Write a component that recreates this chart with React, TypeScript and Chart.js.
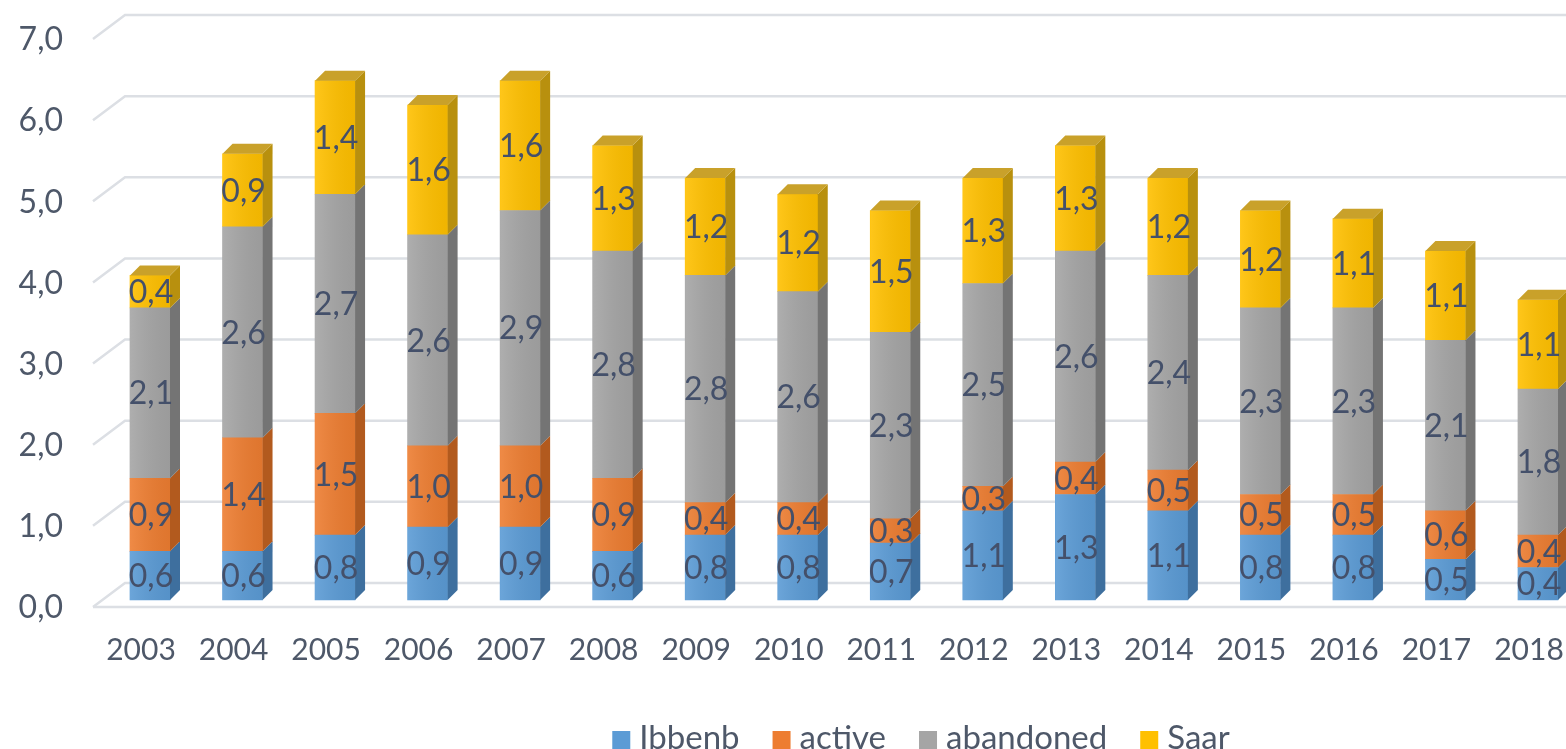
import React, { useEffect, useRef } from "react";
import { Chart, registerables } from "chart.js";

Chart.register(...registerables);

const years = ["2003", "2004", "2005", "2006", "2007", "2008", "2009", "2010", "2011", "2012", "2013", "2014", "2015", "2016", "2017", "2018"];
const ibbenb = [0.6, 0.6, 0.8, 0.9, 0.9, 0.6, 0.8, 0.8, 0.7, 1.1, 1.3, 1.1, 0.8, 0.8, 0.5, 0.4];
const active = [0.9, 1.4, 1.5, 1.0, 1.0, 0.9, 0.4, 0.4, 0.3, 0.3, 0.4, 0.5, 0.5, 0.5, 0.6, 0.4];
const abandoned = [2.1, 2.6, 2.7, 2.6, 2.9, 2.8, 2.8, 2.6, 2.3, 2.5, 2.6, 2.4, 2.3, 2.3, 2.1, 1.8];
const saar = [0.4, 0.9, 1.4, 1.6, 1.6, 1.3, 1.2, 1.2, 1.5, 1.3, 1.3, 1.2, 1.2, 1.1, 1.1, 1.1];
const yTicks = [0, 1, 2, 3, 4, 5, 6, 7];

const seriesNames = ["Ibbenb", "active", "abandoned", "Saar"];
const frontColors = ["#5B9BD5", "#ED7D31", "#A5A5A5", "#FFC000"];
const sideColors = ["#3E6F9E", "#B25A1E", "#747474", "#B8900E"];
const topColors = ["#4A82B8", "#C96A28", "#8C8C8C", "#C9A12A"];

const FONT = "Lato, 'Open Sans', sans-serif";
const TEXT = "#4E5869";
const GRID = "#DCDFE4";
const DX = 10;
const DY = -10;

const fmt = (v: number) => v.toFixed(1).replace(".", ",");

const threeD = {
  id: "threeD",
  beforeDatasetsDraw(chart: any) {
    const ctx = chart.ctx;
    const ys = chart.scales.y;
    const xs = chart.scales.x;
    const W = chart.width;
    ctx.save();
    ctx.strokeStyle = GRID;
    ctx.lineWidth = 2.5;
    for (const v of yTicks) {
      const p = ys.getPixelForValue(v);
      ctx.beginPath();
      ctx.moveTo(93, p + 7);
      ctx.lineTo(125, p - 17);
      ctx.lineTo(W, p - 17);
      ctx.stroke();
    }
    const p0 = ys.getPixelForValue(0);
    ctx.beginPath();
    ctx.moveTo(93, p0 + 7);
    ctx.lineTo(W, p0 + 7);
    ctx.stroke();

    // y tick labels
    ctx.fillStyle = TEXT;
    ctx.font = `32px ${FONT}`;
    ctx.textAlign = "right";
    ctx.textBaseline = "middle";
    for (const v of yTicks) {
      const p = ys.getPixelForValue(v);
      ctx.fillText(fmt(v), 63, p + 8);
    }
    // x labels
    ctx.font = `30px ${FONT}`;
    ctx.textAlign = "center";
    years.forEach((yr, i) => {
      const px = xs.getPixelForValue(i);
      ctx.fillText(yr, px - 9, p0 + 50);
    });

    // legend
    ctx.font = `33px ${FONT}`;
    ctx.textAlign = "left";
    const box = 18;
    const gap = 9;
    const spacing = 33;
    const widths = seriesNames.map((n) => ctx.measureText(n).width);
    const total = widths.reduce((a, w) => a + box + gap + w, 0) + spacing * (seriesNames.length - 1);
    let x = 921 - total / 2;
    const ly = 738;
    seriesNames.forEach((n, i) => {
      ctx.fillStyle = frontColors[i];
      ctx.fillRect(x, ly - box / 2 + 2, box, box);
      ctx.fillStyle = TEXT;
      ctx.fillText(n, x + box + gap, ly);
      x += box + gap + widths[i] + spacing;
    });
    ctx.restore();
  },
  afterDatasetsDraw(chart: any) {
    const ctx = chart.ctx;
    const n = chart.data.datasets.length;
    ctx.save();
    for (let d = 0; d < n; d++) {
      const meta = chart.getDatasetMeta(d);
      meta.data.forEach((el: any) => {
        const { x, y, base, width } = el.getProps(["x", "y", "base", "width"], true);
        const xl = x - width / 2;
        const xr = x + width / 2;
        const g = ctx.createLinearGradient(xl, 0, xr, 0);
        g.addColorStop(0, "rgba(255,255,255,0.10)");
        g.addColorStop(1, "rgba(0,0,0,0.06)");
        ctx.fillStyle = g;
        ctx.fillRect(xl, y, width, base - y);
        ctx.fillStyle = sideColors[d];
        ctx.beginPath();
        ctx.moveTo(xr, y);
        ctx.lineTo(xr + DX, y + DY);
        ctx.lineTo(xr + DX, base + DY);
        ctx.lineTo(xr, base);
        ctx.closePath();
        ctx.fill();
        if (d === n - 1) {
          ctx.fillStyle = topColors[d];
          ctx.beginPath();
          ctx.moveTo(xl, y);
          ctx.lineTo(xl + DX, y + DY);
          ctx.lineTo(xr + DX, y + DY);
          ctx.lineTo(xr, y);
          ctx.closePath();
          ctx.fill();
        }
      });
    }
    ctx.fillStyle = "#44506A";
    ctx.font = `32px ${FONT}`;
    ctx.textAlign = "center";
    ctx.textBaseline = "middle";
    for (let d = 0; d < n; d++) {
      const meta = chart.getDatasetMeta(d);
      const vals = chart.data.datasets[d].data as number[];
      meta.data.forEach((el: any, i: number) => {
        const { x, y, base } = el.getProps(["x", "y", "base"], true);
        ctx.fillText(fmt(vals[i]), x + 1, (y + base) / 2 + 1);
      });
    }
    ctx.restore();
  },
};

export default function App() {
  const ref = useRef<HTMLCanvasElement | null>(null);
  useEffect(() => {
    if (!ref.current) return;
    const series = [ibbenb, active, abandoned, saar];
    const chart = new Chart(ref.current, {
      type: "bar",
      data: {
        labels: years,
        datasets: series.map((s, i) => ({
          label: seriesNames[i],
          data: s,
          backgroundColor: frontColors[i],
          borderWidth: 0,
          barThickness: 40,
          clip: false as any,
        })),
      },
      options: {
        animation: false,
        responsive: false,
        devicePixelRatio: 1,
        layout: { padding: { left: 150, right: 28, top: 32, bottom: 149 } },
        plugins: { legend: { display: false }, tooltip: { enabled: false } },
        scales: {
          x: { type: "category", stacked: true, offset: false, display: false, grid: { display: false } },
          y: { stacked: true, min: 0, max: 7, display: false, grid: { display: false } },
        },
      },
      plugins: [threeD],
    });
    return () => chart.destroy();
  }, []);
  return (
    <div style={{ position: "fixed", left: 0, top: 0, width: 1566, height: 749, background: "#fff" }}>
      <canvas ref={ref} width={1566} height={749} />
    </div>
  );
}
